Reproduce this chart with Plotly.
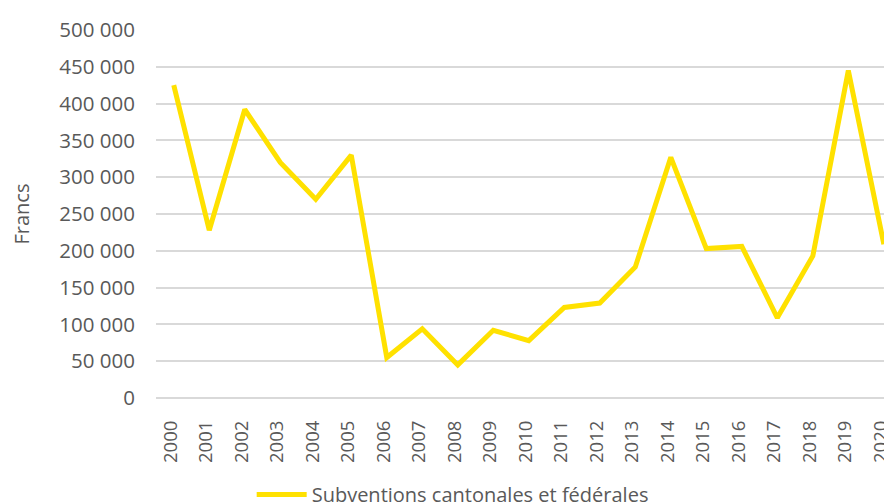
import plotly.graph_objects as go

years = [str(y) for y in range(2000, 2021)]
values = [425000, 228000, 392000, 320000, 270000, 330000, 55000, 94000, 45000, 92000,
          78000, 123000, 129000, 178000, 327000, 203000, 206000, 109000, 193000, 445000, 209000]
y_ticks = [0, 50000, 100000, 150000, 200000, 250000, 300000, 350000, 400000, 450000, 500000]
y_tick_labels = ["0", "50 000", "100 000", "150 000", "200 000", "250 000", "300 000",
                 "350 000", "400 000", "450 000", "500 000"]
series_name = "Subventions cantonales et fédérales"

fig = go.Figure()
fig.add_trace(go.Scatter(
    x=years, y=values, mode="lines", name=series_name,
    line=dict(color="#FFE100", width=5),
))

font_fam = "Open Sans, Segoe UI, sans-serif"
# page body has an 8px default margin, so the figure is sized 8px smaller
fig.update_layout(
    width=884, height=496,
    margin=dict(l=148, r=0, t=22, b=106, autoexpand=False),
    paper_bgcolor="white", plot_bgcolor="white",
    font=dict(family=font_fam, size=19, color="#595959"),
    showlegend=True,
    legend=dict(orientation="h", x=0.13, xanchor="left", y=-0.209, yanchor="top",
                font=dict(size=20, color="#595959"), itemwidth=50),
    xaxis=dict(type="category", range=[-0.5, 20.23], tickangle=-90,
               showgrid=False, showline=False, ticks="", tickfont=dict(size=18.5),
               automargin=False, ticklabelstandoff=18, ticklabelshift=-3),
    yaxis=dict(range=[0, 500000], tickvals=y_ticks, ticktext=y_tick_labels,
               showgrid=True, gridcolor="#D9D9D9", gridwidth=1.5,
               zeroline=True, zerolinecolor="#D9D9D9", zerolinewidth=1.5,
               showline=False, ticks="", tickfont=dict(size=20.5),
               automargin=False, ticklabelstandoff=20,
               title=dict(text="Francs", font=dict(size=20), standoff=27)),
)

fig.write_html("out.html")
